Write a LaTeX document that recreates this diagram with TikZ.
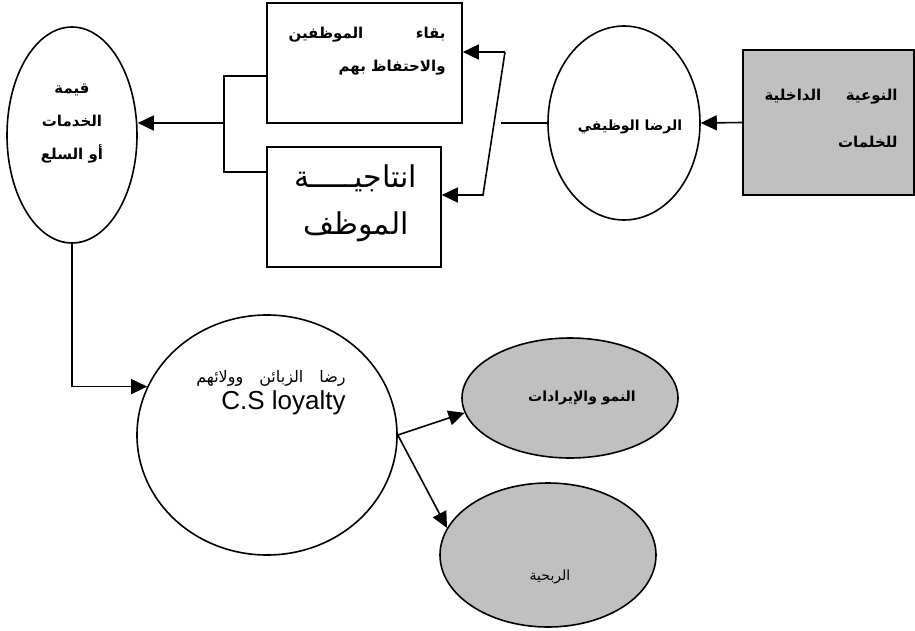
\documentclass[tikz,border=0pt]{standalone}
\usepackage{fontspec}
\usetikzlibrary{arrows.meta,shapes.geometric}
\newfontfamily\arabicfont[Script=Arabic]{DejaVu Sans}
\newfontfamily\latinfont{Liberation Sans}
\TeXXeTstate=1
\definecolor{pGray}{RGB}{192,192,192}
\tikzset{
    oval/.style={ellipse, draw, line width=0.8pt, inner sep=0pt},
    rbox/.style={rectangle, draw, line width=0.8pt, inner sep=0pt},
    txt/.style={inner sep=0pt, font=\arabicfont\bfseries\fontsize{7.5}{16.5}\selectfont},
    arr/.style={line width=0.8pt, -{Triangle[length=8pt,width=7.5pt]}}
}

\begin{document}
\begin{tikzpicture}[x=0.5pt,y=-0.5pt]
\useasboundingbox (0,0) rectangle (915,631);
% shapes
\node[oval, minimum width=65pt, minimum height=108pt] (val) at (72,135) {};
\node[rbox, minimum width=97.5pt, minimum height=60pt] (retain) at (364.5,63) {};
\node[rbox, minimum width=87pt, minimum height=60pt] (prod) at (354,207) {};
\node[oval, minimum width=76pt, minimum height=97pt] (jsat) at (624,123) {};
\node[rbox, fill=pGray, minimum width=85.5pt, minimum height=72.5pt] (qual) at (828.5,122.5) {};
\node[oval, minimum width=130pt, minimum height=120pt] (loyal) at (267,435) {};
\node[oval, fill=pGray, minimum width=108pt, minimum height=60pt] (grow) at (570,398) {};
\node[oval, fill=pGray, minimum width=108pt, minimum height=72pt] (profit) at (548,555) {};
% texts
\node[txt, align=center] (valT) at (72,124) {\beginR قيمة\endR\\ \beginR الخدمات\endR\\ \beginR أو السلع\endR};
\node[txt, text width=78.5pt, align=right, anchor=east] (retainT) at (446,51) {\beginR بقاء\hfill الموظفين\endR\\ \beginR والاحتفاظ بهم\endR};
\node[txt, align=center, font=\arabicfont\fontsize{15}{23.5}\selectfont] (prodT) at (356,203) {\beginR انتاجيـــــة\endR\\ \beginR الموظف\endR};
\node[txt, font=\arabicfont\bfseries\fontsize{7}{8}\selectfont] (jsatT) at (630,127) {\beginR الرضا الوظيفي\endR};
\node[txt, text width=66.5pt, align=right, anchor=east, font=\arabicfont\bfseries\fontsize{7.5}{23.5}\selectfont] (qualT) at (898,118) {\beginR النوعية\hfill الداخلية\endR\\ \beginR للخلمات\endR};
\node[txt, align=right, anchor=east, font=\arabicfont\fontsize{8}{13.5}\selectfont] (loyalT) at (346,393) {\beginR رضا\quad الزبائن\quad وولائهم\endR\\ {\latinfont\fontsize{13}{13.5}\selectfont C.S loyalty}};
\node[txt, font=\arabicfont\bfseries\fontsize{7}{8}\selectfont] (growT) at (582,398) {\beginR النمو والإيرادات\endR};
\node[txt, font=\arabicfont\fontsize{7}{8}\selectfont] (profitT) at (550,577) {\beginR الربحية\endR};
% connectors
\coordinate (cJ) at (501,123);
\coordinate (cTop) at (505,52);
\coordinate (cBot) at (483,195);
\coordinate (cB) at (224,123);
\coordinate (cB1) at (224,76);
\coordinate (cB2) at (224,172);
\draw[arr] (qual.west) -- (jsat.east);
\draw[line width=0.8pt] (jsat.west) -- (cJ);
\draw[arr] (cTop) -- (cTop -| retain.east);
\draw[arr] (cTop) -- (cBot) -- (cBot -| prod.east);
\draw[line width=0.8pt] (cB1 -| retain.west) -- (cB1) -- (cB2) -- (cB2 -| prod.west);
\draw[arr] (cB) -- (cB -| val.east);
\draw[arr] (val.south) |- (loyal.158);
\draw[arr] (loyal.east) -- (grow.188);
\draw[arr] (loyal.east) -- (profit.165);
\end{tikzpicture}
\end{document}
